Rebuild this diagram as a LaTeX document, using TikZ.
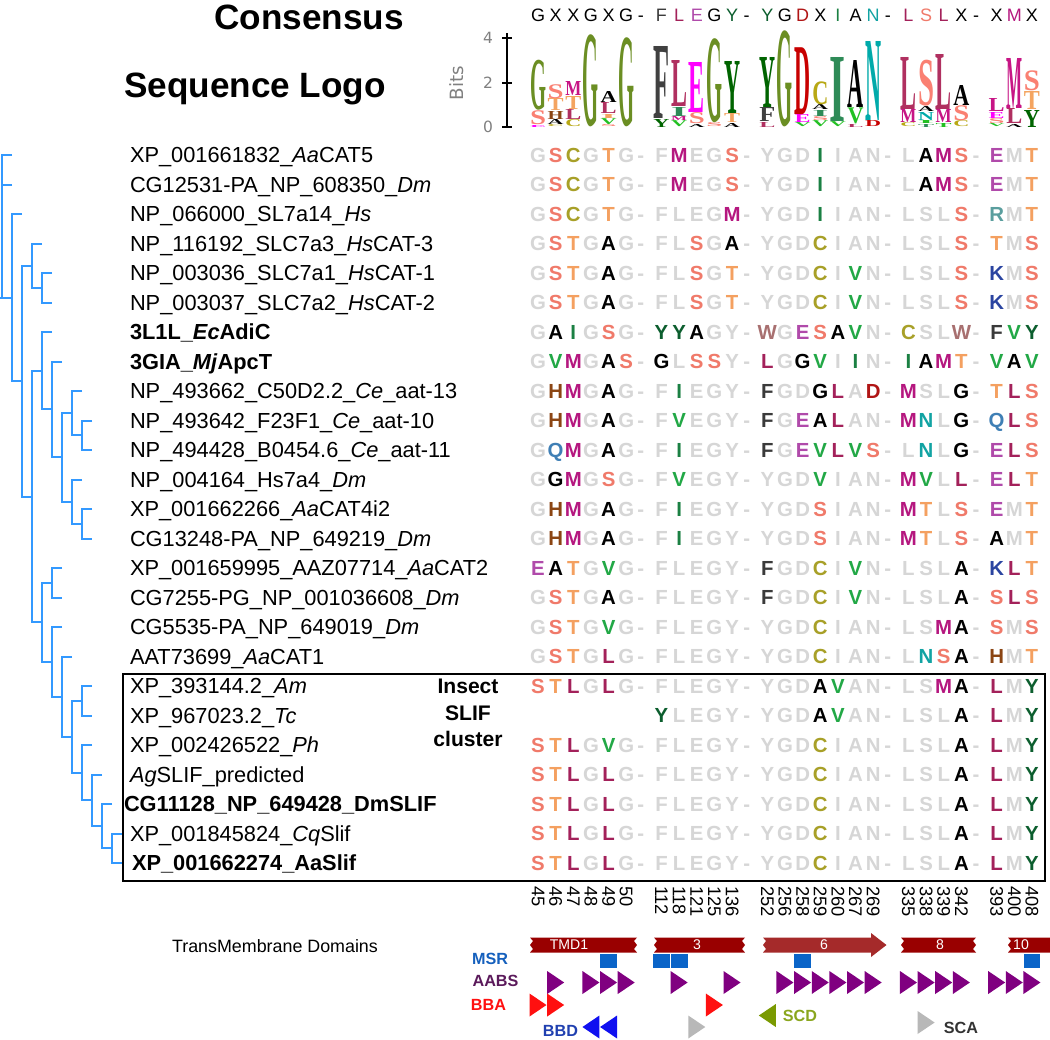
\documentclass[tikz,border=0pt]{standalone}
\usepackage{fontspec}
\usepackage{graphicx}
\setmainfont{Liberation Sans}
\newfontfamily\logofont{Liberation Serif}
\newfontfamily\bitsfont{DejaVu Sans}
\usetikzlibrary{calc}

\definecolor{treeblue}{RGB}{51,153,255}
\definecolor{resgrey}{RGB}{214,214,214}
\definecolor{aaA}{RGB}{0,0,0}
\definecolor{aaC}{RGB}{168,160,40}
\definecolor{aaD}{RGB}{176,21,21}
\definecolor{aaE}{RGB}{176,74,170}
\definecolor{aaF}{RGB}{58,58,58}
\definecolor{aaG}{RGB}{0,0,0}
\definecolor{aaH}{RGB}{139,69,19}
\definecolor{aaI}{RGB}{27,128,67}
\definecolor{aaK}{RGB}{42,68,160}
\definecolor{aaL}{RGB}{163,33,90}
\definecolor{aaM}{RGB}{181,23,127}
\definecolor{aaN}{RGB}{18,163,163}
\definecolor{aaQ}{RGB}{63,127,181}
\definecolor{aaR}{RGB}{90,158,158}
\definecolor{aaS}{RGB}{240,122,106}
\definecolor{aaT}{RGB}{244,160,96}
\definecolor{aaV}{RGB}{34,168,70}
\definecolor{aaW}{RGB}{168,112,112}
\definecolor{aaX}{RGB}{0,0,0}
\definecolor{aaY}{RGB}{12,94,46}
\definecolor{lgA}{RGB}{0,0,0}
\definecolor{lgC}{RGB}{184,168,20}
\definecolor{lgD}{RGB}{200,0,0}
\definecolor{lgE}{RGB}{255,0,255}
\definecolor{lgF}{RGB}{64,64,64}
\definecolor{lgG}{RGB}{107,142,35}
\definecolor{lgH}{RGB}{139,69,19}
\definecolor{lgI}{RGB}{46,139,87}
\definecolor{lgL}{RGB}{176,48,96}
\definecolor{lgM}{RGB}{199,21,133}
\definecolor{lgN}{RGB}{0,170,170}
\definecolor{lgS}{RGB}{250,128,114}
\definecolor{lgT}{RGB}{244,164,96}
\definecolor{lgV}{RGB}{34,192,34}
\definecolor{lgY}{RGB}{0,100,0}
\definecolor{bitsgrey}{RGB}{128,128,128}
\definecolor{tmdred}{RGB}{153,0,0}
\definecolor{tmdarrow}{RGB}{165,42,42}
\definecolor{msrblue}{RGB}{10,100,200}
\definecolor{msrtext}{RGB}{21,96,189}
\definecolor{aabspurple}{RGB}{128,0,128}
\definecolor{aabstext}{RGB}{91,26,91}
\definecolor{bbared}{RGB}{255,16,16}
\definecolor{bbdblue}{RGB}{16,16,240}
\definecolor{bbdtext}{RGB}{32,64,176}
\definecolor{sitegrey}{RGB}{184,184,184}
\definecolor{scdgreen}{RGB}{122,154,1}
\definecolor{scdtext}{RGB}{138,166,30}
\definecolor{scatext}{RGB}{51,51,51}

\newlength\pxu
\setlength\pxu{0.025cm}

\def\consensus{{"G","X","X","G","X","G","-","F","L","E","G","Y","-","Y","G","D","X","I","A","N","-","L","S","L","X","-","X","M","X"}}
\def\gapres{-}
\def\blankres{.}

% one alignment row: grey where it agrees with the consensus
\newcommand\seqrow[2]{%
  \foreach \res [count=\col from 0] in {#2} {
    \pgfmathsetmacro\conres{\consensus[\col]}
    \pgfmathsetmacro\xx{538+17.64*\col}
    \edef\thisres{\res}
    \def\dx{0}
    \ifx\thisres\gapres \def\dx{3}\fi
    \ifx\thisres\blankres\else
      \ifx\thisres\conres
        \node[residue, text=resgrey] (r#1-\col) at (\xx-\dx,{155+29.5*(#1-1)}) {\res};
      \else
        \node[residue, text=aa\res] (r#1-\col) at (\xx-\dx,{155+29.5*(#1-1)}) {\res};
      \fi
    \fi
  }
}

% one logo column, letters from the bottom up
\newcommand\logocol[2]{%
  \pgfmathsetmacro\lx{538+17.64*#1}
  \foreach \lt/\lc/\lh [remember=\ytop as \ybot (initially 127), count=\i] in {#2} {
    \pgfmathsetmacro\ytop{\ybot-\lh-0.4}
    \node[logoletter, text=\lc] (lg#1-\i) at (\lx,\ybot) {\resizebox*{16\pxu}{\lh\pxu}{\logofont\bfseries\lt}};
  }
}

% tree node between two children
\newcommand\clade[4]{%
  \coordinate (nd#1m) at ($(#3)!0.5!(#4)$);
  \coordinate (nd#1) at (#2,0 |- nd#1m);
  \draw[branch] (#3) -| (nd#1) |- (#4);
}

\newcommand\rtri[3]{%
  \pgfmathsetmacro\tx{538+17.64*#1}
  \fill[#3] ({\tx-8.5},{#2-11.5}) -- ({\tx+8.5},#2) -- ({\tx-8.5},{#2+11.5}) -- cycle;
}
\newcommand\ltri[3]{%
  \pgfmathsetmacro\tx{538+17.64*#1}
  \fill[#3] ({\tx+8.5},{#2-11.5}) -- ({\tx-8.5},#2) -- ({\tx+8.5},{#2+11.5}) -- cycle;
}
\newcommand\msrbox[1]{%
  \pgfmathsetmacro\tx{538+17.64*#1}
  \fill[msrblue] ({\tx-8.4},954) rectangle ({\tx+8.4},968);
}
% band with torn ends
\newcommand\tmdband[4]{%
  \fill[tmdred] (#1,937.5) -- (#2,937.5) -- ({#2-3},941) -- (#2,945) -- ({#2-3},949) -- (#2,952.5)
    -- (#1,952.5) -- ({#1+3},949) -- (#1,945) -- ({#1+3},941) -- cycle;
  \node[tmdtext] (tmd#4) at (#3,945) {#4};
}

\tikzset{
  every node/.style={inner sep=0pt, outer sep=0pt},
  title/.style={font=\fontsize{25}{28}\selectfont\bfseries},
  seqlabel/.style={anchor=base west, yshift=-5.6pt, font=\fontsize{15.5}{18}\selectfont},
  residue/.style={anchor=base, yshift=-5.2pt, font=\fontsize{14.5}{16}\selectfont\bfseries},
  cons/.style={anchor=base, yshift=-4.6pt, font=\fontsize{12.8}{15}\selectfont},
  posnum/.style={rotate=-90, anchor=west, font=\fontsize{13}{14}\selectfont},
  logoletter/.style={anchor=south},
  branch/.style={draw=treeblue, line width=1.42pt},
  tmdtext/.style={text=white, font=\fontsize{10}{12}\selectfont},
  site/.style={font=\fontsize{11.5}{13}\selectfont\bfseries},
}

\begin{document}
\begin{tikzpicture}[x=0.025cm, y=-0.025cm]
\useasboundingbox (0,0) rectangle (1050,1039);
\fill[white] (0,0) rectangle (1050,1039);

\node[title] (constitle) at (309,17) {Consensus};
\node[title, anchor=base, yshift=-8.9pt] (logotitle) at (255,85) {Sequence Logo};

% consensus line
\foreach \res [count=\col from 0] in {G,X,X,G,X,G,-,F,L,E,G,Y,-,Y,G,D,X,I,A,N,-,L,S,L,X,-,X,M,X} {
  \pgfmathsetmacro\xx{538+17.64*\col}
  \edef\thisres{\res}
  \ifx\thisres\gapres
    \node[cons] (c\col) at (\xx-3,15) {-};
  \else
    \node[cons, text=aa\res] (c\col) at (\xx,15) {\res};
  \fi
}

% bits axis
\draw[line width=1.4pt] (507,33) -- (507,128);
\draw[line width=1.4pt] (502,38) -- (512,38);
\draw[line width=1.4pt] (502,83) -- (512,83);
\draw[line width=1.4pt] (502,127) -- (512,127);
\node[text=bitsgrey, font=\bitsfont\fontsize{11}{13}\selectfont] (bit4) at (488,38) {4};
\node[text=bitsgrey, font=\bitsfont\fontsize{11}{13}\selectfont] (bit2) at (488,83) {2};
\node[text=bitsgrey, font=\bitsfont\fontsize{11}{13}\selectfont] (bit0) at (488,127) {0};
\node[text=bitsgrey, rotate=90, font=\bitsfont\fontsize{13}{15}\selectfont] (bits) at (457,83) {Bits};

% sequence logo
\logocol{0}{E/lgE/2,S/lgS/14,G/lgG/50}
\logocol{1}{C/lgC/2,A/lgA/5,H/lgH/8,T/lgT/12,S/lgS/14}
\logocol{2}{C/lgC/7,L/lgL/10,T/lgT/13,M/lgM/14}
\logocol{3}{G/lgG/92}
\logocol{4}{S/lgS/2,V/lgV/6,I/lgT/4,L/lgL/11,A/lgA/11}
\logocol{5}{G/lgG/89}
\logocol{7}{Y/lgY/8,F/lgF/72}
\logocol{8}{V/lgV/6,M/lgM/4,I/lgI/9,L/lgL/46}
\logocol{9}{A/lgA/3,S/lgS/11,E/lgE/50}
\logocol{10}{S/lgS/4,G/lgG/84}
\logocol{11}{A/lgA/4,T/lgT/9,Y/lgY/52}
\logocol{13}{L/lgL/5,F/lgF/14,Y/lgY/50}
\logocol{14}{G/lgG/96}
\logocol{15}{V/lgV/4,E/lgE/8,D/lgD/67}
\logocol{16}{V/lgV/6,S/lgS/4,I/lgI/6,A/lgA/5,C/lgC/23}
\logocol{17}{V/lgV/5,I/lgI/64}
\logocol{18}{L/lgL/3,V/lgV/16,A/lgA/47}
\logocol{19}{D/lgD/6,N/lgN/79}
\logocol{21}{C/lgC/4,M/lgM/13,L/lgL/52}
\logocol{22}{T/lgI/3,I/lgV/3,N/lgN/8,A/lgA/5,S/lgS/46}
\logocol{23}{T/lgV/4,M/lgM/13,L/lgL/55}
\logocol{24}{C/lgC/6,S/lgS/15,A/lgA/20}
\logocol{26}{V/lgV/3,S/lgS/5,E/lgE/6,L/lgM/13}
\logocol{27}{A/lgA/3,L/lgL/15,M/lgM/50}
\logocol{28}{Y/lgY/17,T/lgT/18,S/lgS/20}

% sequence names
\node[seqlabel] (lab1) at (130,155) {XP\_001661832\_\textit{Aa}CAT5};
\node[seqlabel] (lab2) at (130,184.5) {CG12531-PA\_NP\_608350\_\textit{Dm}};
\node[seqlabel] (lab3) at (130,214) {NP\_066000\_SL7a14\_\textit{Hs}};
\node[seqlabel] (lab4) at (130,243.5) {NP\_116192\_SLC7a3\_\textit{Hs}CAT-3};
\node[seqlabel] (lab5) at (130,273) {NP\_003036\_SLC7a1\_\textit{Hs}CAT-1};
\node[seqlabel] (lab6) at (130,302.5) {NP\_003037\_SLC7a2\_\textit{Hs}CAT-2};
\node[seqlabel] (lab7) at (130,332) {\bfseries 3L1L\_\textit{Ec}AdiC};
\node[seqlabel] (lab8) at (130,361.5) {\bfseries 3GIA\_\textit{Mj}ApcT};
\node[seqlabel] (lab9) at (130,391) {NP\_493662\_C50D2.2\_\textit{Ce}\_aat-13};
\node[seqlabel] (lab10) at (130,420.5) {NP\_493642\_F23F1\_\textit{Ce}\_aat-10};
\node[seqlabel] (lab11) at (130,450) {NP\_494428\_B0454.6\_\textit{Ce}\_aat-11};
\node[seqlabel] (lab12) at (130,479.5) {NP\_004164\_Hs7a4\_\textit{Dm}};
\node[seqlabel] (lab13) at (130,509) {XP\_001662266\_\textit{Aa}CAT4i2};
\node[seqlabel] (lab14) at (130,538.5) {CG13248-PA\_NP\_649219\_\textit{Dm}};
\node[seqlabel] (lab15) at (130,568) {XP\_001659995\_AAZ07714\_\textit{Aa}CAT2};
\node[seqlabel] (lab16) at (130,597.5) {CG7255-PG\_NP\_001036608\_\textit{Dm}};
\node[seqlabel] (lab17) at (130,627) {CG5535-PA\_NP\_649019\_\textit{Dm}};
\node[seqlabel] (lab18) at (130,656.5) {AAT73699\_\textit{Aa}CAT1};
\node[seqlabel] (lab19) at (130,686) {XP\_393144.2\_\textit{Am}};
\node[seqlabel] (lab20) at (130,715.5) {XP\_967023.2\_\textit{Tc}};
\node[seqlabel] (lab21) at (130,745) {XP\_002426522\_\textit{Ph}};
\node[seqlabel] (lab22) at (130,774.5) {\textit{Ag}SLIF\_predicted};
\node[seqlabel] (lab23) at (124,804) {\bfseries CG11128\_NP\_649428\_DmSLIF};
\node[seqlabel] (lab24) at (130,833.5) {XP\_001845824\_\textit{Cq}Slif};
\node[seqlabel] (lab25) at (132,863) {\bfseries XP\_001662274\_AaSlif};

% alignment
\seqrow{1}{G,S,C,G,T,G,-,F,M,E,G,S,-,Y,G,D,I,I,A,N,-,L,A,M,S,-,E,M,T}
\seqrow{2}{G,S,C,G,T,G,-,F,M,E,G,S,-,Y,G,D,I,I,A,N,-,L,A,M,S,-,E,M,T}
\seqrow{3}{G,S,C,G,T,G,-,F,L,E,G,M,-,Y,G,D,I,I,A,N,-,L,S,L,S,-,R,M,T}
\seqrow{4}{G,S,T,G,A,G,-,F,L,S,G,A,-,Y,G,D,C,I,A,N,-,L,S,L,S,-,T,M,S}
\seqrow{5}{G,S,T,G,A,G,-,F,L,S,G,T,-,Y,G,D,C,I,V,N,-,L,S,L,S,-,K,M,S}
\seqrow{6}{G,S,T,G,A,G,-,F,L,S,G,T,-,Y,G,D,C,I,V,N,-,L,S,L,S,-,K,M,S}
\seqrow{7}{G,A,I,G,S,G,-,Y,Y,A,G,Y,-,W,G,E,S,A,V,N,-,C,S,L,W,-,F,V,Y}
\seqrow{8}{G,V,M,G,A,S,-,G,L,S,S,Y,-,L,G,G,V,I,I,N,-,I,A,M,T,-,V,A,V}
\seqrow{9}{G,H,M,G,A,G,-,F,I,E,G,Y,-,F,G,D,G,L,A,D,-,M,S,L,G,-,T,L,S}
\seqrow{10}{G,H,M,G,A,G,-,F,V,E,G,Y,-,F,G,E,A,L,A,N,-,M,N,L,G,-,Q,L,S}
\seqrow{11}{G,Q,M,G,A,G,-,F,I,E,G,Y,-,F,G,E,V,L,V,S,-,L,N,L,G,-,E,L,S}
\seqrow{12}{G,G,M,G,S,G,-,F,V,E,G,Y,-,Y,G,D,V,I,A,N,-,M,V,L,L,-,E,L,T}
\seqrow{13}{G,H,M,G,A,G,-,F,I,E,G,Y,-,Y,G,D,S,I,A,N,-,M,T,L,S,-,E,M,T}
\seqrow{14}{G,H,M,G,A,G,-,F,I,E,G,Y,-,Y,G,D,S,I,A,N,-,M,T,L,S,-,A,M,T}
\seqrow{15}{E,A,T,G,V,G,-,F,L,E,G,Y,-,F,G,D,C,I,V,N,-,L,S,L,A,-,K,L,T}
\seqrow{16}{G,S,T,G,A,G,-,F,L,E,G,Y,-,F,G,D,C,I,V,N,-,L,S,L,A,-,S,L,S}
\seqrow{17}{G,S,T,G,V,G,-,F,L,E,G,Y,-,Y,G,D,C,I,A,N,-,L,S,M,A,-,S,M,S}
\seqrow{18}{G,S,T,G,L,G,-,F,L,E,G,Y,-,Y,G,D,C,I,A,N,-,L,N,S,A,-,H,M,T}
\seqrow{19}{S,T,L,G,L,G,-,F,L,E,G,Y,-,Y,G,D,A,V,A,N,-,L,S,M,A,-,L,M,Y}
\seqrow{20}{.,.,.,.,.,.,.,Y,L,E,G,Y,-,Y,G,D,A,V,A,N,-,L,S,L,A,-,L,M,Y}
\seqrow{21}{S,T,L,G,V,G,-,F,L,E,G,Y,-,Y,G,D,C,I,A,N,-,L,S,L,A,-,L,M,Y}
\seqrow{22}{S,T,L,G,L,G,-,F,L,E,G,Y,-,Y,G,D,C,I,A,N,-,L,S,L,A,-,L,M,Y}
\seqrow{23}{S,T,L,G,L,G,-,F,L,E,G,Y,-,Y,G,D,C,I,A,N,-,L,S,L,A,-,L,M,Y}
\seqrow{24}{S,T,L,G,L,G,-,F,L,E,G,Y,-,Y,G,D,C,I,A,N,-,L,S,L,A,-,L,M,Y}
\seqrow{25}{S,T,L,G,L,G,-,F,L,E,G,Y,-,Y,G,D,C,I,A,N,-,L,S,L,A,-,L,M,Y}

% insect cluster box
\draw[line width=1.1pt] (123,674) rectangle (1045,881);
\node[align=center, font=\fontsize{15}{19}\selectfont\bfseries] (insect) at (468,713) {Insect\\SLIF\\cluster};

% tree
\foreach \leaf/\tx in {1/12,2/12,3/22,4/42,5/52,6/52,7/52,8/62,9/82,10/92,11/92,12/82,13/92,14/92,15/62,16/62,17/62,18/72,19/92,20/92,21/92,22/102,23/112,24/122,25/122} {
  \coordinate (t\leaf) at (\tx,{155+29.5*(\leaf-1)});
}
\clade{F}{42}{t5}{t6}
\clade{D}{32}{t4}{ndF}
\clade{M}{82}{t10}{t11}
\clade{K}{72}{t9}{ndM}
\clade{N}{82}{t13}{t14}
\clade{L}{72}{t12}{ndN}
\clade{J}{62}{ndK}{ndL}
\clade{I}{52}{t8}{ndJ}
\clade{G}{42}{t7}{ndI}
\clade{O}{52}{t15}{t16}
\clade{W}{112}{t24}{t25}
\clade{V}{102}{t23}{ndW}
\clade{U}{92}{t22}{ndV}
\clade{T}{82}{t21}{ndU}
\clade{S}{82}{t19}{t20}
\clade{R}{72}{ndS}{ndT}
\clade{Q}{62}{t18}{ndR}
\clade{P}{52}{t17}{ndQ}
\clade{H}{42}{ndO}{ndP}
\clade{E}{32}{ndG}{ndH}
\clade{C}{22}{ndD}{ndE}
\clade{B}{12}{t3}{ndC}
\coordinate (root) at (2,0 |- ndB);
\draw[branch] (t1) -| (root) -- (ndB);
\draw[branch] (t2) -- (root |- t2);
\draw[branch] (root) -- ++(-2,0);

% residue numbers
\foreach \col/\pos in {0/45,1/46,2/47,3/48,4/49,5/50,7/112,8/118,9/121,10/125,11/136,13/252,14/256,15/258,16/259,17/260,18/267,19/269,21/335,22/338,23/339,24/342,26/393,27/400,28/408} {
  \node[posnum] (n\col) at ({538+17.64*\col},886) {\pos};
}

% transmembrane domains
\node[font=\fontsize{12.7}{15}\selectfont] (tmdlabel) at (275,946) {TransMembrane Domains};
\tmdband{530}{637}{569}{TMD1}
\tmdband{654}{745}{697}{3}
\fill[tmdarrow] (763,937.5) -- (871,937.5) -- (871,933) -- (886.5,945) -- (871,957) -- (871,952.5)
  -- (763,952.5) -- (766,949) -- (763,945) -- (766,941) -- cycle;
\node[tmdtext] (tmd6) at (824,945) {6};
\tmdband{901}{976}{940}{8}
\tmdband{1008}{1056}{1021}{10}

% binding sites
\node[site, text=msrtext] (msr) at (490,959) {MSR};
\node[site, text=aabstext] (aabs) at (495.5,981) {AABS};
\node[site, text=bbared] (bba) at (488.5,1004.5) {BBA};
\node[site, text=bbdtext] (bbd) at (560.5,1031) {BBD};
\node[site, text=scdtext] (scd) at (800,1016) {SCD};
\node[site, text=scatext] (sca) at (961,1028) {SCA};
\foreach \col in {4,7,8,15,28} {\msrbox{\col}}
\foreach \col in {1,3,4,5,8,11,14,15,16,17,18,19,21,22,23,24,26,27,28} {\rtri{\col}{982.5}{aabspurple}}
\foreach \col in {0,1,10} {\rtri{\col}{1005}{bbared}}
\foreach \col in {3,4} {\ltri{\col}{1027}{bbdblue}}
\rtri{9}{1027}{sitegrey}
\ltri{13}{1015.5}{scdgreen}
\rtri{22}{1022.5}{sitegrey}
\end{tikzpicture}
\end{document}
